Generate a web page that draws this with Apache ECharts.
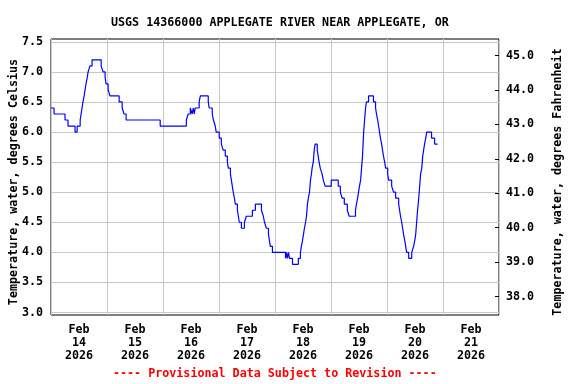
<!DOCTYPE html>
<html>
<head>
<meta charset="utf-8">
<script src="https://cdn.jsdelivr.net/npm/echarts@6/dist/echarts.min.js"></script>
<style>
html,body{margin:0;padding:0;background:#fff;}
#chart{width:576px;height:384px;}
</style>
</head>
<body>
<div id="chart"></div>
<script>
// Hours after 2026-02-14 00:00 at which the reading changes, and the new value (deg C)
var hours = [0, 1.3, 6.0, 7.3, 10.3, 11.2, 12.5, 12.9, 13.3, 13.7, 14.2, 14.6, 15.0, 15.5, 15.9, 16.7, 17.6,
  21.5, 22.3, 23.2, 23.6, 24.5, 25.3, 29.2, 30.5, 31.3, 32.2, 46.8, 58.0, 58.8, 59.7, 60.5, 61.0, 61.4, 61.8,
  63.5, 64.0, 67.4, 67.8, 69.1, 69.6, 70.4, 70.8, 72.1, 73.0, 73.8, 74.7, 75.6, 76.0, 76.9,
  77.3, 77.7, 78.1, 78.6, 79.0, 79.9, 80.3, 80.7, 81.6, 82.9, 83.7, 86.3, 87.6, 90.2, 91.0, 91.5, 92.3,
  93.2, 93.6, 94.0, 94.9, 100.5, 100.9, 101.3, 101.8, 102.2, 103.5, 106.0, 106.9, 107.3, 107.8, 108.2,
  108.6, 109.1, 109.5, 109.9, 110.3, 110.8, 111.2, 111.6, 111.9, 112.4, 112.8, 113.2, 114.1, 114.5,
  114.9, 115.4, 116.2, 116.7, 117.5, 120.1, 123.1, 124.0, 124.8, 125.7, 127.0, 127.8, 130.5, 130.9,
  131.4, 131.8, 132.2, 132.7, 133.1, 133.5, 134.0, 134.4, 134.8, 135.2, 136.1, 138.2, 139.1, 139.5,
  140.0, 140.4, 140.8, 141.2, 141.7, 142.1, 142.5, 143.0, 143.4, 144.3, 144.7, 146.0, 146.8, 147.7,
  149.0, 149.4, 149.8, 150.3, 150.7, 151.1, 151.6, 152.0, 152.4, 153.3, 154.6, 155.4, 155.9, 156.3,
  156.7, 157.1, 157.6, 158.0, 158.4, 158.9, 159.3, 159.7, 160.1, 160.6, 161.0, 163.1, 164.4, 165.7];
var tempC = [6.4, 6.3, 6.2, 6.1, 6.0, 6.1, 6.2, 6.3, 6.4, 6.5, 6.6, 6.7, 6.8, 6.9, 7.0, 7.1, 7.2,
  7.1, 7.0, 6.9, 6.8, 6.7, 6.6, 6.5, 6.4, 6.3, 6.2, 6.1, 6.2, 6.3, 6.4, 6.3, 6.4, 6.3, 6.4,
  6.5, 6.6, 6.5, 6.4, 6.3, 6.2, 6.1, 6.0, 5.9, 5.8, 5.7, 5.6, 5.5, 5.4, 5.3,
  5.2, 5.1, 5.0, 4.9, 4.8, 4.7, 4.6, 4.5, 4.4, 4.5, 4.6, 4.7, 4.8, 4.7, 4.6, 4.5, 4.4,
  4.3, 4.2, 4.1, 4.0, 3.9, 4.0, 3.9, 4.0, 3.9, 3.8, 3.9, 4.0, 4.1, 4.2, 4.3,
  4.4, 4.5, 4.6, 4.8, 4.9, 5.0, 5.2, 5.3, 5.4, 5.5, 5.7, 5.8, 5.7, 5.6,
  5.5, 5.4, 5.3, 5.2, 5.1, 5.2, 5.1, 5.0, 4.9, 4.8, 4.7, 4.6, 4.7, 4.8,
  4.9, 5.0, 5.1, 5.2, 5.4, 5.6, 6.0, 6.2, 6.4, 6.5, 6.6, 6.5, 6.4, 6.3,
  6.2, 6.1, 6.0, 5.9, 5.8, 5.7, 5.6, 5.5, 5.4, 5.3, 5.2, 5.1, 5.0, 4.9,
  4.8, 4.7, 4.6, 4.5, 4.4, 4.3, 4.2, 4.1, 4.0, 3.9, 4.0, 4.1, 4.2, 4.3,
  4.5, 4.7, 4.9, 5.1, 5.3, 5.4, 5.6, 5.7, 5.8, 5.9, 6.0, 5.9, 5.8, 5.8];
var dayLabels = ['Feb\n14\n2026', 'Feb\n15\n2026', 'Feb\n16\n2026', 'Feb\n17\n2026',
  'Feb\n18\n2026', 'Feb\n19\n2026', 'Feb\n20\n2026', 'Feb\n21\n2026'];
var celsiusTicks = [3.0, 3.5, 4.0, 4.5, 5.0, 5.5, 6.0, 6.5, 7.0, 7.5];
var fahrenheitTicks = [38, 39, 40, 41, 42, 43, 44, 45];
var titleText = 'USGS 14366000 APPLEGATE RIVER NEAR APPLEGATE, OR';
var footerText = '---- Provisional Data Subject to Revision ----';
var leftName = 'Temperature, water, degrees Celsius';
var rightName = 'Temperature, water, degrees Fahrenheit';

var FONT = '"DejaVu Sans Mono", "Liberation Mono", monospace';
var FS = 11.7;
var chart = echarts.init(document.getElementById('chart'), null, {renderer: 'canvas'});
var seriesData = hours.map(function (h, i) { return [h, tempC[i]]; });
var boldFont = 'bold ' + FS + 'px ' + FONT;

chart.setOption({
  animation: false,
  backgroundColor: '#ffffff',
  title: {
    text: titleText, left: 106, top: 12,
    textStyle: {fontFamily: FONT, fontSize: FS, fontWeight: 'bold', color: '#000'}
  },
  grid: {left: 51, right: 77, top: 39, bottom: 69, containLabel: false, outerBoundsMode: 'none',
    show: true, borderColor: '#000', borderWidth: 1, backgroundColor: 'transparent'},
  xAxis: [{
    type: 'value', min: 0, max: 192, interval: 24,
    axisLine: {show: false}, axisTick: {show: false}, axisLabel: {show: false},
    splitLine: {show: true, lineStyle: {color: '#c8c8c8', width: 1}}
  }, {
    type: 'category', position: 'bottom', data: dayLabels, boundaryGap: true,
    axisLine: {show: false}, axisTick: {show: false}, splitLine: {show: false},
    axisLabel: {margin: 8, fontFamily: FONT, fontSize: FS, fontWeight: 'bold', color: '#000', lineHeight: 13, interval: 0}
  }],
  yAxis: [{
    type: 'value', min: 2.958, max: 7.547,
    axisLine: {show: false},
    axisTick: {show: false, customValues: celsiusTicks},
    axisLabel: {customValues: celsiusTicks, margin: 8, fontFamily: FONT, fontSize: FS, fontWeight: 'bold', color: '#000',
      formatter: function (v) { return v.toFixed(1); }},
    splitLine: {show: true, lineStyle: {color: '#c8c8c8', width: 1}}
  }, {
    type: 'value', min: 37.463, max: 45.479, position: 'right',
    axisLine: {show: false},
    axisTick: {show: true, inside: true, length: 4, customValues: fahrenheitTicks, lineStyle: {color: '#000'}},
    axisLabel: {customValues: fahrenheitTicks, margin: 7, fontFamily: FONT, fontSize: FS, fontWeight: 'bold', color: '#000',
      formatter: function (v) { return v.toFixed(1); }},
    splitLine: {show: false}
  }],
  graphic: [{
    type: 'text', left: 113, top: 368,
    style: {text: footerText, fill: '#ff0000', font: boldFont}
  }, {
    type: 'text', x: 14, y: 182, rotation: Math.PI / 2,
    style: {text: leftName, fill: '#000', font: boldFont, align: 'center', verticalAlign: 'middle'}
  }, {
    type: 'text', x: 558, y: 182, rotation: Math.PI / 2,
    style: {text: rightName, fill: '#000', font: boldFont, align: 'center', verticalAlign: 'middle'}
  }],
  series: [{
    type: 'line', xAxisIndex: 0, yAxisIndex: 0, data: seriesData, step: 'end',
    showSymbol: false, symbol: 'none', lineStyle: {color: '#0000ff', width: 1.2}, z: 5
  }]
});
</script>
</body>
</html>
